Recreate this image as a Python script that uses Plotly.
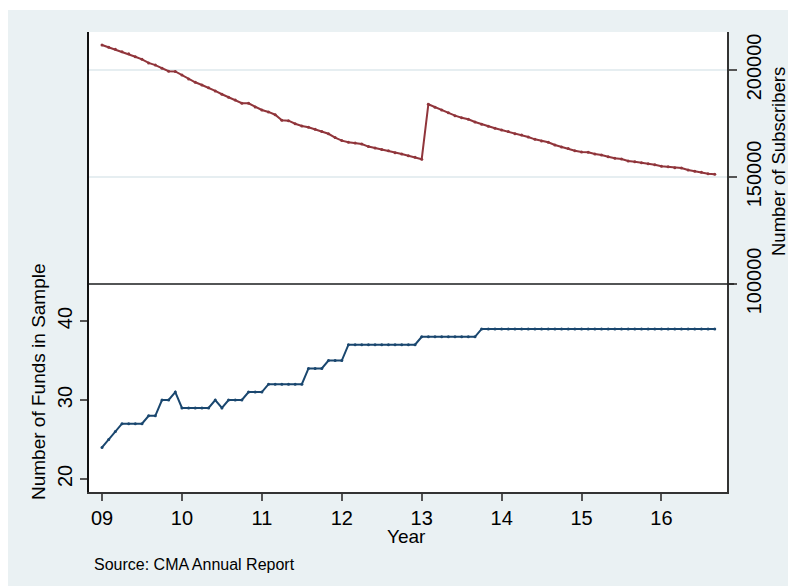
import plotly.graph_objects as go

# ---- data (monthly, Jan 2009 - Sep 2016) ----
start_year = 2009
funds = [24, 25, 26, 27, 27, 27, 27, 28, 28, 30, 30, 31,
         29, 29, 29, 29, 29, 30, 29, 30, 30, 30, 31, 31,
         31, 32, 32, 32, 32, 32, 32, 34, 34, 34, 35, 35,
         35, 37, 37, 37, 37, 37, 37, 37, 37, 37, 37, 37,
         38, 38, 38, 38, 38, 38, 38, 38, 38, 39, 39, 39,
         39, 39, 39, 39, 39, 39, 39, 39, 39, 39, 39, 39,
         39, 39, 39, 39, 39, 39, 39, 39, 39, 39, 39, 39,
         39, 39, 39, 39, 39, 39, 39, 39, 39]
subscribers = [211700, 210600, 209700, 208550, 207600, 206200, 205000, 203300, 202300, 200800, 199400, 199300,
               197700, 195800, 194250, 193000, 191700, 190200, 188650, 187250, 186000, 184450, 184400, 182700,
               181300, 180400, 179100, 176500, 176300, 174900, 173800, 173200, 172300, 171200, 170200, 168400,
               167000, 166200, 165900, 165400, 164200, 163550, 162900, 162300, 161350, 160750, 159950, 159200,
               158300, 184000, 182600, 181300, 180050, 178650, 177700, 176950, 175700, 174600, 173700, 172750,
               171950, 171200, 170200, 169600, 168700, 167600, 166800, 166200, 164950, 164000, 163300, 162250,
               161700, 161550, 160750, 160300, 159500, 158750, 158400, 157500, 157150, 156700, 156200, 155750,
               155000, 154800, 154350, 154200, 153250, 152650, 152200, 151550, 151250]
x_tick_years = [2009, 2010, 2011, 2012, 2013, 2014, 2015, 2016]
x_tick_labels = ["09", "10", "11", "12", "13", "14", "15", "16"]
left_ticks = [20, 30, 40]
right_ticks = [100000, 150000, 200000]
right_tick_labels = ["100000", "150000", "200000"]

t = [start_year + i / 12 for i in range(len(funds))]

NAVY = "#1A476F"
MAROON = "#90353B"
BG = "#EAF1F3"
FONT = "Liberation Sans, Arial, sans-serif"

fig = go.Figure()
fig.add_trace(go.Scatter(x=t, y=funds, mode="lines+markers", yaxis="y",
                         line=dict(color=NAVY, width=2), marker=dict(color=NAVY, size=3),
                         showlegend=False))
fig.add_trace(go.Scatter(x=t, y=subscribers, mode="lines+markers", yaxis="y2",
                         line=dict(color=MAROON, width=2), marker=dict(color=MAROON, size=3),
                         showlegend=False))

OFF = 8  # page offset of the figure (body margin)
W, H = 788, 578
L, R, T, B = 81, 69, 24, 94
pw, ph = W - L - R, H - T - B

def px(xp):
    # page pixel x -> paper fraction
    return (xp - OFF - L) / pw

def py(yp):
    # page pixel y -> paper fraction
    return (H - B - (yp - OFF)) / ph

fig.update_layout(
    width=W, height=H, autosize=False,
    margin=dict(l=L, r=R, t=T, b=B, pad=0),
    paper_bgcolor=BG, plot_bgcolor="white",
    font=dict(family=FONT, size=20, color="black"),
    xaxis=dict(range=[2008.837, 2016.82], tickvals=x_tick_years, ticktext=x_tick_labels,
               ticks="outside", ticklen=7, tickwidth=1.5, tickcolor="#555",
               showline=True, linecolor="#333", linewidth=1.5, showgrid=False, zeroline=False,
               tickfont=dict(size=20)),
    yaxis=dict(range=[18.35, 76.6], tickvals=left_ticks, tickangle=-90,
               ticks="outside", ticklen=7, tickwidth=1.5, tickcolor="#555",
               showline=True, linecolor="#111", linewidth=1.5, showgrid=False, zeroline=False,
               tickfont=dict(size=20)),
    yaxis2=dict(range=[2800, 217750], tickvals=right_ticks, ticktext=right_tick_labels,
                tickangle=-90, overlaying="y", side="right",
                ticks="outside", ticklen=8, tickwidth=1.5, tickcolor="#555",
                showline=True, linecolor="#333", linewidth=1.5,
                showgrid=True, gridcolor="#E6EEF1", gridwidth=1.5, zeroline=False,
                tickfont=dict(size=20)),
    shapes=[
        dict(type="rect", xref="paper", yref="paper", x0=px(0), x1=px(W + 20), y0=py(10), y1=py(0),
             fillcolor="white", line=dict(width=0), layer="below"),
        dict(type="line", xref="paper", yref="y2", x0=0, x1=px(734), y0=100000, y1=100000,
             line=dict(color="#222", width=1.5), layer="above"),
    ],
    annotations=[
        dict(text="Number of Funds in Sample", xref="paper", yref="paper", x=px(38), y=py(382),
             textangle=-90, showarrow=False, xanchor="center", yanchor="middle", font=dict(size=19)),
        dict(text="Number of Subscribers", xref="paper", yref="paper", x=px(778), y=py(162),
             textangle=-90, showarrow=False, xanchor="center", yanchor="middle", font=dict(size=18.5)),
        dict(text="Year", xref="paper", yref="paper", x=px(406), y=py(536),
             showarrow=False, xanchor="center", yanchor="middle", font=dict(size=19)),
        dict(text="Source: CMA Annual Report", xref="paper", yref="paper", x=px(92), y=py(564),
             showarrow=False, xanchor="left", yanchor="middle", font=dict(size=16)),
    ],
)

fig.write_html("out.html")
